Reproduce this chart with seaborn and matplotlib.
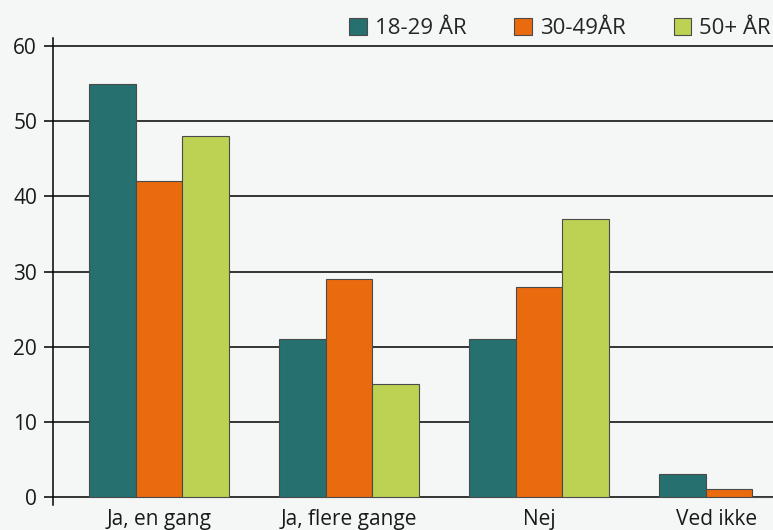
import pandas as pd
import matplotlib.pyplot as plt
import matplotlib.transforms as mtransforms
import seaborn as sns

# data
kategorier = ["Ja, en gang", "Ja, flere gange", "Nej", "Ved ikke"]
grupper = ["18-29 ÅR", "30-49ÅR", "50+ ÅR"]
v_18_29 = [55, 21, 21, 3]
v_30_49 = [42, 29, 28, 1]
v_50 = [48, 15, 37, 0]
farver = ["#26706f", "#ea6a0e", "#bdd152"]

rows = []
for gruppe, vals in zip(grupper, [v_18_29, v_30_49, v_50]):
    for kat, v in zip(kategorier, vals):
        rows.append({"kategori": kat, "gruppe": gruppe, "pct": v})
df = pd.DataFrame(rows)

sns.set_style("white")
plt.rcParams["font.family"] = ["Open Sans", "DejaVu Sans"]
bg = "#f5f7f7"

fig = plt.figure(figsize=(7.73, 5.30), dpi=100, facecolor=bg)
ax = fig.add_axes([53 / 773, 25 / 530, 720 / 773, 467 / 530])
ax.set_facecolor(bg)

sns.barplot(data=df, x="kategori", y="pct", hue="gruppe", order=kategorier,
            hue_order=grupper, palette=farver, saturation=1, width=0.737,
            edgecolor="#4a4a4a", linewidth=0.8, ax=ax, zorder=3)

ax.set_ylim(-1.1, 61.1)
ax.set_xlim(-0.558, 3.231)
ax.set_yticks(range(0, 61, 10))
ax.yaxis.grid(True, color="black", linewidth=1.1)
ax.set_axisbelow(True)
ax.set_xlabel("")
ax.set_ylabel("")

for s in ["top", "right", "bottom"]:
    ax.spines[s].set_visible(False)
ax.spines["left"].set_color("black")
ax.spines["left"].set_linewidth(1.1)
ax.tick_params(axis="y", length=6.5, width=1.1, color="black", labelsize=15, pad=5, left=True)
ax.tick_params(axis="x", length=0, labelsize=15, pad=3)
for lbl in ax.get_xticklabels() + ax.get_yticklabels():
    lbl.set_color("#1a1a1a")

# sidste etiket er skubbet lidt til venstre i originalen
skub = mtransforms.ScaledTranslation(-13 / 100, 0, fig.dpi_scale_trans)
sidste = ax.get_xticklabels()[-1]
sidste.set_transform(sidste.get_transform() + skub)

sns.move_legend(ax, "upper right", bbox_to_anchor=(1.02, 1.0), bbox_transform=fig.transFigure,
                ncol=3, frameon=False, title=None, fontsize=16, handlelength=0.8,
                handleheight=0.8, handletextpad=0.35, columnspacing=2.15, borderaxespad=0.4)

fig.savefig("out.png", dpi=100, facecolor=bg)
